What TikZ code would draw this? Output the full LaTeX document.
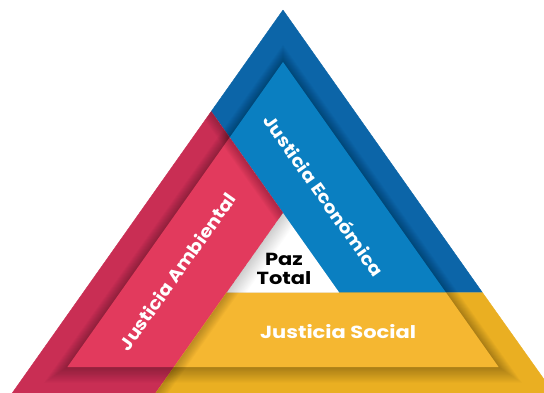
\documentclass[tikz,border=0pt]{standalone}
\usepackage{fontspec}
\setmainfont{Poppins}
\usetikzlibrary{calc}
\definecolor{blueD}{RGB}{12,101,168}
\definecolor{blueL}{RGB}{10,127,193}
\definecolor{redD}{RGB}{201,46,84}
\definecolor{redL}{RGB}{226,58,93}
\definecolor{yelD}{RGB}{234,175,34}
\definecolor{yelL}{RGB}{245,183,49}
\tikzset{
  band/.style={line width=0.4pt, line join=round},
  txt/.style={font=\bfseries\fontsize{17.5}{19}\selectfont, inner sep=0pt,
    text height=12.2pt, text depth=0pt, transform shape, text=white},
  shadowstrip/.style={black, opacity=0.025},
}
\begin{document}
\begin{tikzpicture}[x=1pt,y=-1pt]
\useasboundingbox (0,0) rectangle (544,392);
\fill[white] (0,0) rectangle (544,392);
\clip (0,0) rectangle (544,392);
% key points
\coordinate (O) at (283,10);
\coordinate (OL) at (9.4,397);
\coordinate (OR) at (556.6,397);
\coordinate (IA) at (283,62);
\coordinate (IL) at (67.4,367);
\coordinate (IR) at (498.6,367);
\coordinate (W) at (283,213);
\coordinate (WL) at (226.8,292.5);
\coordinate (WR) at (339.2,292.5);
\coordinate (P1) at (211.2,111.5);
\coordinate (Q1) at (482.4,292.5);
\coordinate (R1) at (153,397);
% outer frame (dark tones)
\filldraw[band, fill=blueD, draw=blueD] (O) -- (P1) -- (W) -- (WR) -- (Q1) -- cycle;
\filldraw[band, fill=redD, draw=redD] (P1) -- (W) -- (R1) -- (OL) -- cycle;
\filldraw[band, fill=yelD, draw=yelD] (WL) -- (Q1) -- (OR) -- (R1) -- cycle;
% soft shadow of the inner triangle on the frame
\foreach \d in {1,...,12} {
  \fill[black, opacity=0.022, shift={(283,{255.4+0.3*\d})}, scale={(111.6+\d)/111.6}]
    (0,-193.4) -- (-215.6,111.6) -- (215.6,111.6) -- cycle;
}
% inner triangle (light tones)
\begin{scope}
  \clip (IA) -- (IL) -- (IR) -- cycle;
  \filldraw[band, fill=blueL, draw=blueL] (O) -- (P1) -- (W) -- (WR) -- (Q1) -- cycle;
  \filldraw[band, fill=redL, draw=redL] (P1) -- (W) -- (R1) -- (OL) -- cycle;
  \filldraw[band, fill=yelL, draw=yelL] (WL) -- (Q1) -- (OR) -- (R1) -- cycle;
\end{scope}
% centre triangle
\fill[white] (W) -- (WL) -- (WR) -- cycle;
% shadow of blue band on red band
\begin{scope}
  \clip (P1) -- (W) -- (R1) -- (OL) -- cycle;
  \foreach \d in {1,...,10} {
    \fill[shadowstrip] (205.4,103.3) -- (288.8,221.2)
      -- ($(288.8,221.2)+({-0.816*\d},{0.577*\d})$)
      -- ($(205.4,103.3)+({-0.816*\d},{0.577*\d})$) -- cycle;
  }
\end{scope}
% shadow of red band on yellow band
\begin{scope}
  \clip (WL) -- (Q1) -- (OR) -- (R1) -- cycle;
  \foreach \d in {1,...,10} {
    \fill[shadowstrip] (232.6,284.3) -- (147.2,405.2)
      -- ($(147.2,405.2)+({0.816*\d},{0.577*\d})$)
      -- ($(232.6,284.3)+({0.816*\d},{0.577*\d})$) -- cycle;
  }
\end{scope}
% shadow of red band on the centre
\begin{scope}
  \clip (W) -- (WL) -- (WR) -- cycle;
  \foreach \d in {1,...,16} {
    \fill[black, opacity=0.012] (288.8,204.8) -- (221,300.7)
      -- ($(221,300.7)+({0.816*\d},{0.577*\d})$)
      -- ($(288.8,204.8)+({0.816*\d},{0.577*\d})$) -- cycle;
  }
\end{scope}
% texts
\begin{scope}[shift={(338,332)}, xscale=1.2]
  \node[txt] (social) at (0,0) {Justicia Social};
\end{scope}
\begin{scope}[shift={(323,196)}, rotate=-54.7, xscale=1.1]
  \node[txt] (economica) at (0,0) {Justicia Económica};
\end{scope}
\begin{scope}[shift={(178,272)}, rotate=54.7, xscale=1.1]
  \node[txt] (ambiental) at (0,0) {Justicia Ambiental};
\end{scope}
\begin{scope}[shift={(284,268.5)}, xscale=1.2]
  \node[font=\bfseries\fontsize{17.5}{19}\selectfont, inner sep=0pt, align=center,
    transform shape, text=black] (paz) at (0,0) {Paz\\Total};
\end{scope}
\end{tikzpicture}
\end{document}
